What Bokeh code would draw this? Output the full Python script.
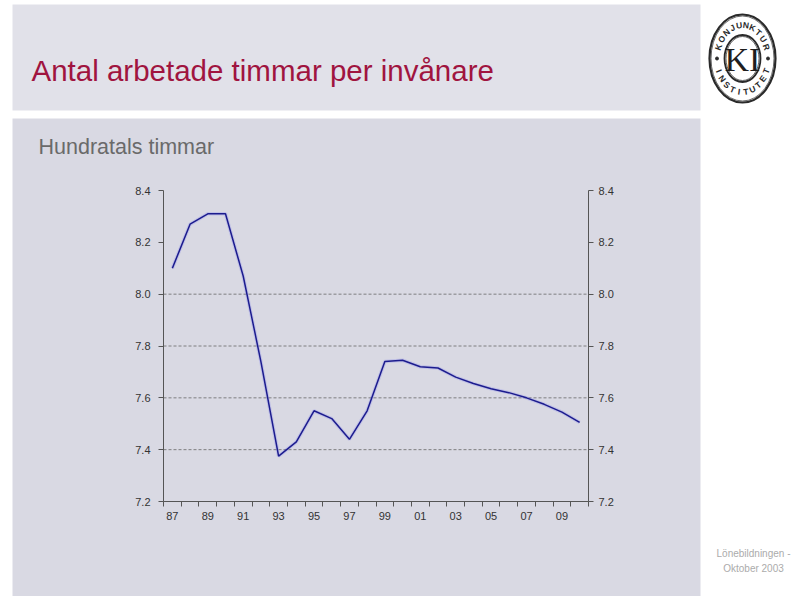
import numpy as np
from bokeh.plotting import figure
from bokeh.models import (Range1d, LinearAxis, FixedTicker, PrintfTickFormatter,
                          CustomJSTickFormatter, Label)
from bokeh.embed import file_html
from bokeh.resources import INLINE

# ---------------- data ----------------
years = list(range(1987, 2011))
hours = [8.10, 8.27, 8.31, 8.31, 8.07, 7.74, 7.375, 7.43, 7.55, 7.52, 7.44, 7.55,
         7.74, 7.745, 7.72, 7.715, 7.68, 7.655, 7.635, 7.62, 7.60, 7.575, 7.545, 7.505]
y_ticks = [7.2, 7.4, 7.6, 7.8, 8.0, 8.2, 8.4]
grid_levels = [7.4, 7.6, 7.8, 8.0]
x_label_years = [1987, 1989, 1991, 1993, 1995, 1997, 1999, 2001, 2003, 2005, 2007, 2009]
x_labels = ["87", "89", "91", "93", "95", "97", "99", "01", "03", "05", "07", "09"]
title_text = "Antal arbetade timmar per invånare"
subtitle_text = "Hundratals timmar"
footer_lines = ["Lönebildningen -", "Oktober 2003"]
logo_top = "KONJUNKTUR"
logo_bottom = "INSTITUTET"
logo_mid = "KI"

# ---------------- layout (canvas pixels) ----------------
W, H = 791, 596
CL, CR, CT, CB = 163, 588, 190, 501      # chart area edges
BAND = "#e1e1e9"
PANEL = "#d9d9e3"
FONT = "Liberation Sans"

x0, x1 = years[0] - 0.5, years[-1] + 0.5
y0, y1 = y_ticks[0], y_ticks[-1]
kx = (CR - CL) / (x1 - x0)
ky = (CB - CT) / (y1 - y0)

p = figure(width=W, height=H, output_backend="svg", toolbar_location=None,
           x_range=Range1d(0, W), y_range=Range1d(H, 0),
           x_axis_location=None, y_axis_location=None, min_border=0)
p.grid.visible = False
p.outline_line_color = None
p.background_fill_color = "white"
p.border_fill_color = "white"
p.extra_x_ranges = {"yr": Range1d(x0 - CL / kx, x1 + (W - CR) / kx)}
p.extra_y_ranges = {"v": Range1d(y0 - (H - CB) / ky, y1 + CT / ky)}

# background panels
p.quad(left=[12, 12], right=[700, 700], top=[4, 118], bottom=[110, H],
       fill_color=[BAND, PANEL], line_color=None)

# titles
p.add_layout(Label(x=31, y=70, text=title_text, text_font=FONT, text_font_size="29.5px",
                   text_color="#a0143f", text_align="left", text_baseline="alphabetic"))
p.add_layout(Label(x=38, y=146, text=subtitle_text, text_font=FONT, text_font_size="21.5px",
                   text_color="#6a6a6a", text_align="left", text_baseline="alphabetic"))
for i, line in enumerate(footer_lines):
    p.add_layout(Label(x=753, y=553 + 15 * i, text=line, text_font=FONT, text_font_size="10px",
                       text_color="#ababab", text_align="center", text_baseline="alphabetic"))

# logo
LCX, LCY = 742, 58
rings = [(33, 44, 2.2), (31.5, 42.5, 0.7), (18, 23.5, 1.8), (16.5, 22, 0.7)]
p.ellipse(x=[LCX] * 4, y=[LCY] * 4, width=[2 * r[0] for r in rings],
          height=[2 * r[1] for r in rings], fill_color=None, line_color="#2a2a2a",
          line_width=[r[2] for r in rings])
p.add_layout(Label(x=LCX, y=LCY + 1, text=logo_mid, text_font="Liberation Serif",
                   text_font_size="34px", text_color="#1e1e1e",
                   text_align="center", text_baseline="middle"))
RX, RY = 25.5, 33.5
n = len(logo_top)
for i, ch in enumerate(logo_top):
    th = np.radians(160 - i * (140 / (n - 1)))
    p.add_layout(Label(x=LCX + RX * np.cos(th), y=LCY - RY * np.sin(th), text=ch,
                       angle=th - np.pi / 2, text_font=FONT, text_font_size="8.5px",
                       text_font_style="bold", text_color="#2a2a2a",
                       text_align="center", text_baseline="middle"))
n = len(logo_bottom)
for i, ch in enumerate(logo_bottom):
    th = np.radians(202 + i * (136 / (n - 1)))
    p.add_layout(Label(x=LCX + RX * np.cos(th), y=LCY - RY * np.sin(th), text=ch,
                       angle=th + np.pi / 2, text_font=FONT, text_font_size="8.5px",
                       text_font_style="bold", text_color="#2a2a2a",
                       text_align="center", text_baseline="middle"))
p.scatter(x=[LCX - RX, LCX + RX], y=[LCY, LCY], size=3, color="#2a2a2a")

# grid lines (dotted)
p.segment(x0=[x0] * len(grid_levels), x1=[x1] * len(grid_levels), y0=grid_levels, y1=grid_levels,
          x_range_name="yr", y_range_name="v", line_color="#6e6e6e", line_dash="3 2",
          line_width=1, line_alpha=0.85)

# data line
p.line(years, hours, x_range_name="yr", y_range_name="v",
       line_color="#6a6af0", line_width=3.5, line_alpha=0.22)
p.line(years, hours, x_range_name="yr", y_range_name="v",
       line_color="#1c1c8e", line_width=1.5)

# axes
AX = "#555555"


def style(ax):
    ax.axis_line_color = AX
    ax.major_tick_line_color = AX
    ax.minor_tick_line_color = None
    ax.major_label_text_font = FONT
    ax.major_label_text_font_size = "11px"
    ax.major_label_text_color = "#333333"


for side, loc, so in (("left", x0, 8), ("right", x1, 5)):
    ax = LinearAxis(x_range_name="yr", y_range_name="v", fixed_location=loc, bounds=(y0, y1),
                    ticker=FixedTicker(ticks=y_ticks),
                    formatter=PrintfTickFormatter(format="%.1f"))
    style(ax)
    ax.major_tick_out = 5
    ax.major_tick_in = 0
    ax.major_label_standoff = so
    p.add_layout(ax, side)

# bottom axis: tick marks at year boundaries
xa_ticks = LinearAxis(x_range_name="yr", y_range_name="v", fixed_location=y0, bounds=(x0, x1),
                      ticker=FixedTicker(ticks=[y - 0.5 for y in years] + [x1]),
                      formatter=CustomJSTickFormatter(code="return ''"))
style(xa_ticks)
xa_ticks.major_tick_out = 5
xa_ticks.major_tick_in = 0
p.add_layout(xa_ticks, "below")

# bottom axis: labels centred in each year
overrides = {yr: lab for yr, lab in zip(x_label_years, x_labels)}
xa_labels = LinearAxis(x_range_name="yr", y_range_name="v", fixed_location=y0, bounds=(x0, x1),
                       ticker=FixedTicker(ticks=x_label_years), major_label_overrides=overrides)
style(xa_labels)
xa_labels.axis_line_color = None
xa_labels.major_tick_out = 0
xa_labels.major_tick_in = 0
xa_labels.major_label_standoff = 10
p.add_layout(xa_labels, "below")

open("out.html", "w").write(file_html(p, INLINE))
